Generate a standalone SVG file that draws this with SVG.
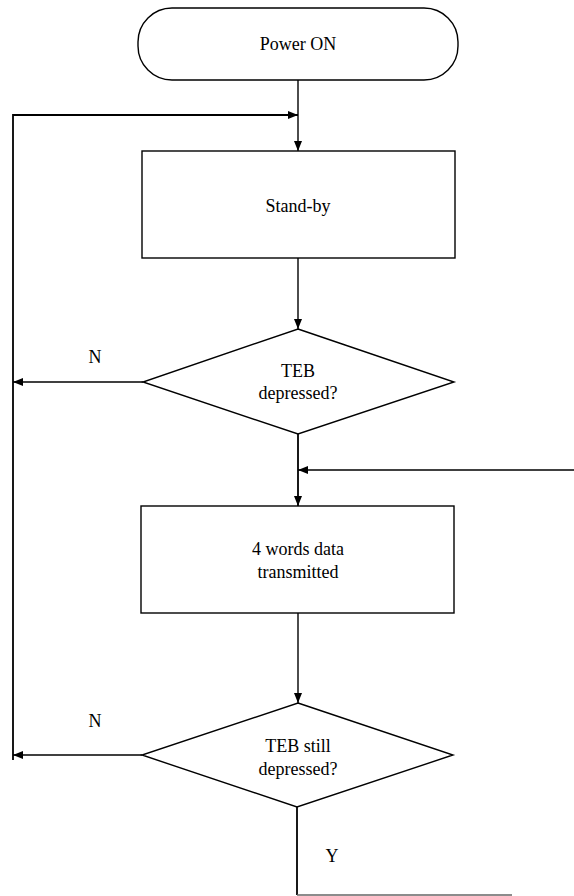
<svg xmlns="http://www.w3.org/2000/svg" width="574" height="896" viewBox="0 0 574 896">
<style>
.s{fill:#fff;stroke:#000;stroke-width:1.4}
.t{font-family:'Liberation Serif','Times New Roman',Times,serif;font-size:18px;fill:#000;text-anchor:middle}
.c{fill:none;stroke:#000;stroke-width:1.4}
</style>
<defs>
<marker id="ah" viewBox="0 0 10 8" refX="10" refY="4" markerWidth="10" markerHeight="8" markerUnits="userSpaceOnUse" orient="auto">
<path d="M0,0 L10,4 L0,8 Z" fill="#000"/>
</marker>
</defs>
<rect width="574" height="896" fill="#fff"/>
<g id="connectors">
<line class="c" x1="298" y1="80" x2="298" y2="151" marker-end="url(#ah)"/>
<polyline class="c" points="13,760 13,115 298,115" marker-end="url(#ah)" style="stroke-width:1.8"/>
<line class="c" x1="298" y1="258" x2="298" y2="329" marker-end="url(#ah)"/>
<line class="c" x1="143" y1="382" x2="13" y2="382" marker-end="url(#ah)"/>
<line class="c" x1="298" y1="434" x2="298" y2="506" marker-end="url(#ah)" style="stroke-width:1.8"/>
<line class="c" x1="574" y1="470" x2="298" y2="470" marker-end="url(#ah)"/>
<line class="c" x1="298" y1="613" x2="298" y2="703" marker-end="url(#ah)"/>
<line class="c" x1="142" y1="755" x2="13" y2="755" marker-end="url(#ah)"/>
<line class="c" x1="297" y1="807" x2="297" y2="895" style="stroke-width:1.8"/>
<line class="c" x1="297" y1="895" x2="512" y2="895" style="stroke:#666"/>
<text class="t" x="95" y="363" font-family="Liberation Serif, serif">N</text>
<text class="t" x="95" y="727" font-family="Liberation Serif, serif">N</text>
<text class="t" x="332" y="862" font-family="Liberation Serif, serif">Y</text>
</g>
<g id="power-on">
<rect class="s" x="138" y="8" width="320" height="72" rx="34" ry="34"/>
<text class="t" x="298" y="50" font-family="Liberation Serif, serif">Power ON</text>
</g>
<g id="stand-by">
<rect class="s" x="142" y="151" width="313" height="107"/>
<text class="t" x="298" y="212" font-family="Liberation Serif, serif">Stand-by</text>
</g>
<g id="teb-depressed">
<polygon class="s" points="298,329 454,382 298,434 143,382"/>
<text class="t" x="298" y="377" font-family="Liberation Serif, serif">TEB</text>
<text class="t" x="298" y="399" font-family="Liberation Serif, serif">depressed?</text>
</g>
<g id="data-transmitted">
<rect class="s" x="141" y="506" width="313" height="107"/>
<text class="t" x="298" y="555" font-family="Liberation Serif, serif">4 words data</text>
<text class="t" x="298" y="578" font-family="Liberation Serif, serif">transmitted</text>
</g>
<g id="teb-still-depressed">
<polygon class="s" points="298,703 453,755 297,807 142,755"/>
<text class="t" x="298" y="752" font-family="Liberation Serif, serif">TEB still</text>
<text class="t" x="298" y="775" font-family="Liberation Serif, serif">depressed?</text>
</g>
</svg>
